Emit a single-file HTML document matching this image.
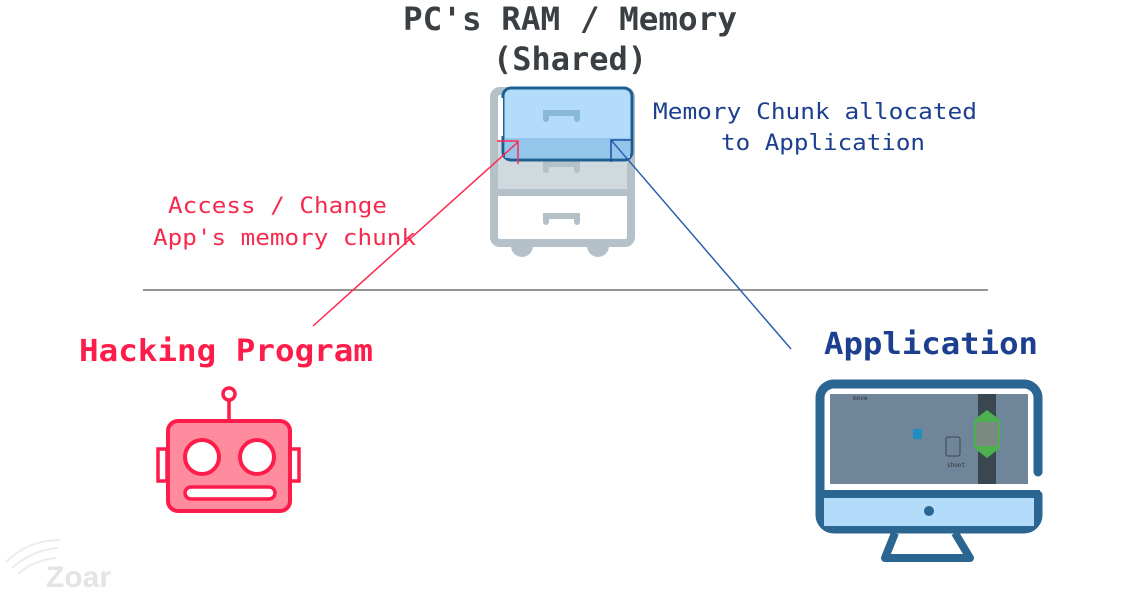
<!DOCTYPE html>
<html><head><meta charset="utf-8"><style>
html,body{margin:0;padding:0;background:#fff;}
svg{display:block;}
text{font-family:"DejaVu Sans Mono","Liberation Mono",monospace;}
</style></head><body>
<svg width="1146" height="595" viewBox="0 0 1146 595" xmlns="http://www.w3.org/2000/svg">
<text x="570" y="30" text-anchor="middle" font-size="32" font-weight="bold" fill="#3a3f44" textLength="334" lengthAdjust="spacingAndGlyphs">PC's RAM / Memory</text>
<text x="570" y="70" text-anchor="middle" font-size="32" font-weight="bold" fill="#3a3f44" textLength="154" lengthAdjust="spacingAndGlyphs">(Shared)</text>
<text x="653" y="119" font-size="22" fill="#1c3f8f" textLength="324" lengthAdjust="spacingAndGlyphs">Memory Chunk allocated</text>
<text x="721" y="150" font-size="22" fill="#1c3f8f" textLength="204" lengthAdjust="spacingAndGlyphs">to Application</text>
<text x="168" y="213" font-size="22" fill="#f52a4f" textLength="219" lengthAdjust="spacingAndGlyphs">Access / Change</text>
<text x="153" y="245" font-size="22" fill="#f52a4f" textLength="263" lengthAdjust="spacingAndGlyphs">App's memory chunk</text>
<text x="79" y="361" font-size="30" font-weight="bold" fill="#fe1d4a" textLength="294" lengthAdjust="spacingAndGlyphs">Hacking Program</text>
<text x="824" y="354" font-size="30" font-weight="bold" fill="#1c3f8f" textLength="214" lengthAdjust="spacingAndGlyphs">Application</text>

<circle cx="522" cy="246" r="11" fill="#b5c1c8"/>
<circle cx="598" cy="246" r="11" fill="#b5c1c8"/>
<rect x="494" y="91" width="137" height="152" rx="6" fill="#fff" stroke="#b5c1c8" stroke-width="8"/>
<rect x="498" y="140" width="129" height="50" fill="#d0d9de"/>
<rect x="498" y="189" width="129" height="7" fill="#b5c1c8"/>
<path d="M546 222 v-6 h31 v6" fill="none" stroke="#b5c1c8" stroke-width="6" stroke-linecap="round"/>
<path d="M546 170 v-6 h31 v6" fill="none" stroke="#b5c1c8" stroke-width="6" stroke-linecap="round"/>
<rect x="503" y="88" width="129" height="72" rx="8" fill="#b3dcfb" stroke="#1d5f91" stroke-width="3"/>
<rect x="505" y="138" width="125" height="20" fill="#94c6ec"/>
<path d="M546 119 v-6 h31 v6" fill="none" stroke="#8ab8d9" stroke-width="6" stroke-linecap="round"/>
<rect x="498" y="98" width="5" height="38" fill="#fff"/>

<line x1="143" y1="290" x2="988" y2="290" stroke="#555" stroke-width="1.3"/>

<line x1="313" y1="326" x2="518" y2="142" stroke="#fe2850" stroke-width="1.5"/>
<path d="M497 141 H518 V164" fill="none" stroke="#fe2850" stroke-width="1.5"/>
<line x1="791" y1="349" x2="611" y2="140" stroke="#2c5fb0" stroke-width="1.5"/>
<path d="M632 140 H611 V162" fill="none" stroke="#1d4f9e" stroke-width="1.5"/>

<circle cx="229" cy="394" r="6" fill="#fff" stroke="#fe1d4a" stroke-width="3.5"/>
<line x1="229" y1="400" x2="229" y2="421" stroke="#fe1d4a" stroke-width="3.5"/>
<rect x="158" y="449" width="9" height="32" fill="#fff" stroke="#fe1d4a" stroke-width="3.5"/>
<rect x="290" y="449" width="9" height="32" fill="#fff" stroke="#fe1d4a" stroke-width="3.5"/>
<rect x="168" y="421" width="122" height="90" rx="10" fill="#ff8c9e" stroke="#fe1d4a" stroke-width="4"/>
<circle cx="202" cy="457" r="17" fill="#fff" stroke="#fe1d4a" stroke-width="4"/>
<circle cx="257" cy="457" r="17" fill="#fff" stroke="#fe1d4a" stroke-width="4"/>
<rect x="185" y="487" width="90" height="12" rx="6" fill="#fff" stroke="#fe1d4a" stroke-width="3.5"/>

<path d="M895 533 L885 558 H970 L955 533" fill="#fff" stroke="#2b6592" stroke-width="8" stroke-linejoin="round"/>
<path d="M1038 472 V398 a14 14 0 0 0 -14 -14 H834 a14 14 0 0 0 -14 14 V515 a14 14 0 0 0 14 14 H1024 a14 14 0 0 0 14 -14 V495" fill="none" stroke="#2b6592" stroke-width="9" stroke-linecap="round"/>
<rect x="824" y="497" width="210" height="29" fill="#b3dcfb"/>
<line x1="820" y1="494" x2="1040" y2="494" stroke="#2b6592" stroke-width="8"/>
<circle cx="929" cy="511" r="5" fill="#2b6592"/>
<rect x="830" y="394" width="198" height="90" fill="#6f8599"/>
<rect x="978" y="394" width="18" height="90" fill="#3a4650"/>
<polygon points="987,410 1000,420 1000,448 987,458 974,448 974,420" fill="#4cb050"/>
<rect x="976" y="422" width="22" height="24" fill="#7a8a80"/>
<rect x="913" y="429" width="9" height="10" fill="#1e8fc0"/>
<rect x="946" y="437" width="14" height="19" rx="2" fill="none" stroke="#3d4650" stroke-width="1"/>
<text x="853" y="400" font-size="6" fill="#333">move</text>
<text x="947" y="467" font-size="6" fill="#333">shoot</text>

<text x="46" y="587" font-size="30" font-weight="bold" fill="#e4e4e4" style="font-family:'Liberation Sans',sans-serif">Zoar</text>
<path d="M6 562 q22 -22 54 -22 M12 568 q20 -18 46 -20 M18 574 q16 -14 38 -16" fill="none" stroke="#ececec" stroke-width="2"/>
</svg>
</body></html>
